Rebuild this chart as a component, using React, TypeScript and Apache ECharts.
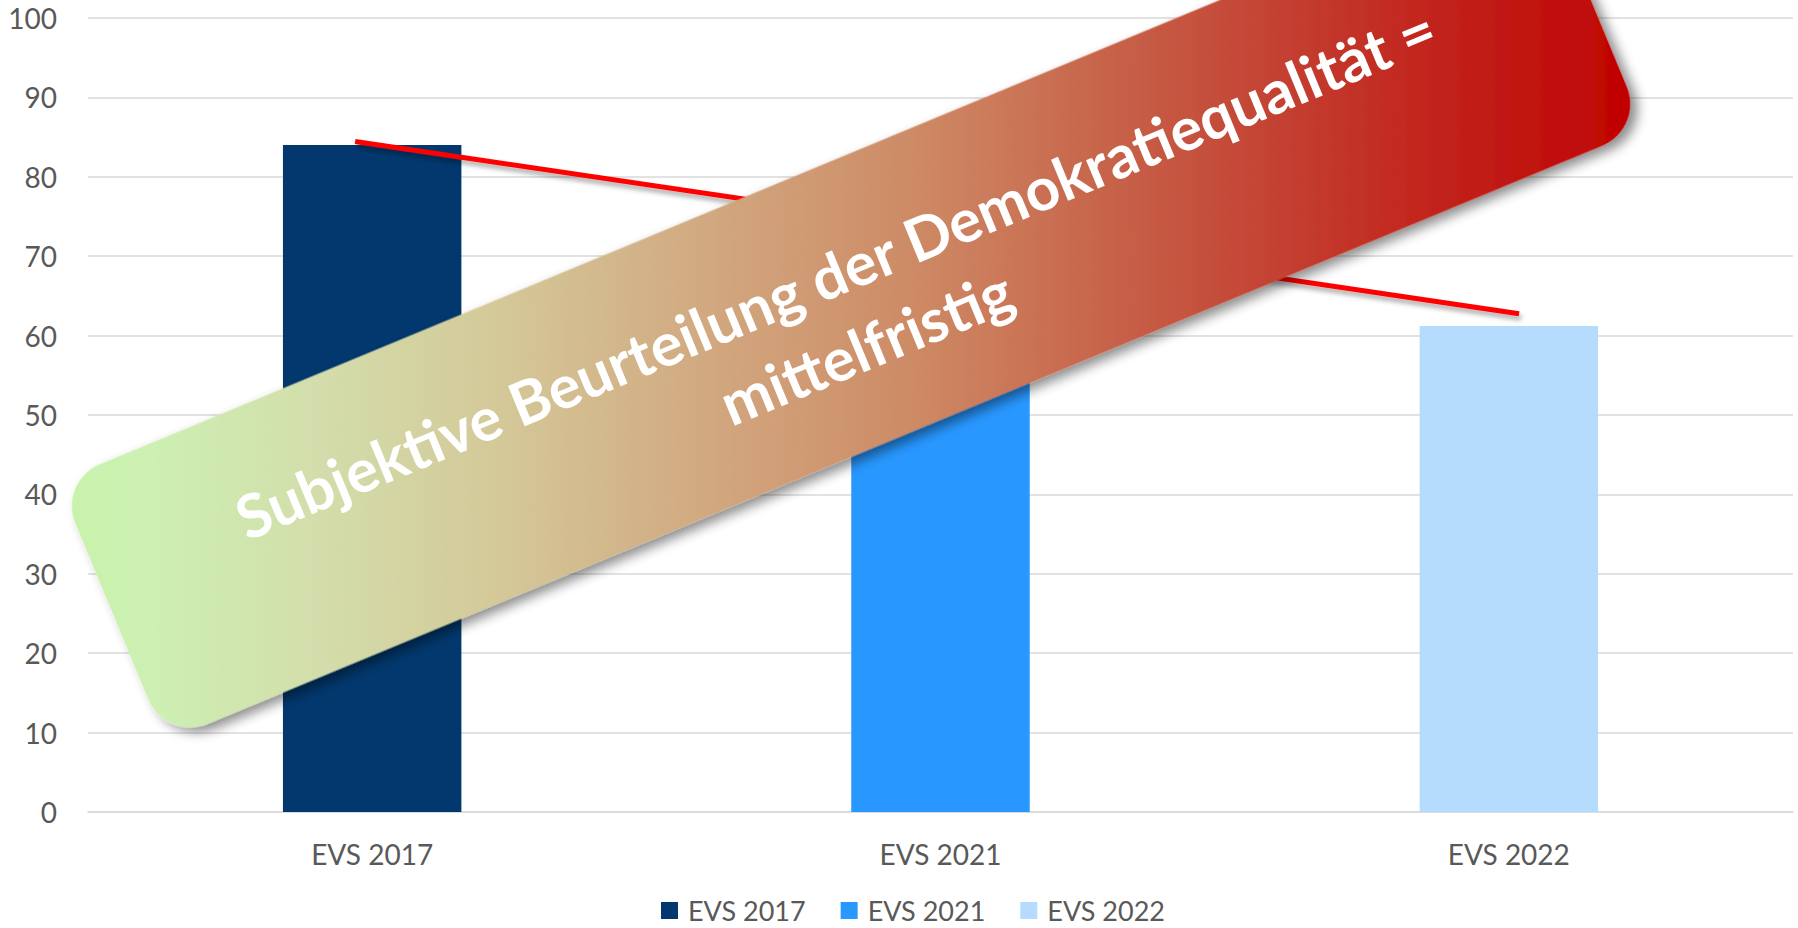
import React, { useEffect, useRef } from "react";
import * as echarts from "echarts";

const categories = ["EVS 2017", "EVS 2021", "EVS 2022"];
const seriesNames = ["EVS 2017", "EVS 2021", "EVS 2022"];
const values = [84, 70, 61.2];
const barColors = ["#02386e", "#2897ff", "#b6dcfd"];
const yTicks = { min: 0, max: 100, interval: 10 };
// trend annotation line: [category position, value]
const trendLine: [number, number][] = [
  [-0.03, 84.45],
  [2.018, 62.74],
];
const bannerText = "Subjektive Beurteilung der Demokratiequalität =\nmittelfristig";

export default function App() {
  const ref = useRef<HTMLDivElement>(null);
  useEffect(() => {
    if (!ref.current) return;
    const chart = echarts.init(ref.current, null, { renderer: "svg" });
    const theta = (22.5 * Math.PI) / 180;
    const W = 1600;
    const H = 281;
    const proj = (W / 2) * Math.cos(theta) + (H / 2) * Math.sin(theta);
    const gx = proj * Math.cos(theta);
    const gy = proj * Math.sin(theta);
    const grad = new echarts.graphic.LinearGradient(
      -gx,
      -gy,
      gx,
      gy,
      [
        { offset: 0, color: "#c8f3aa" },
        { offset: 0.06, color: "#cdf0b3" },
        { offset: 0.17, color: "#d3dcaa" },
        { offset: 0.28, color: "#d4c898" },
        { offset: 0.39, color: "#d2ad84" },
        { offset: 0.54, color: "#cd8a65" },
        { offset: 0.69, color: "#c65a44" },
        { offset: 0.83, color: "#c22e24" },
        { offset: 1, color: "#c00000" },
      ],
      true
    );

    const barSeries = seriesNames.map((name, i) => ({
      name,
      type: "bar",
      stack: "all",
      barWidth: "31.4%",
      itemStyle: { color: barColors[i] },
      data: categories.map((_, j) => (j === i ? values[i] : "-")),
    }));

    chart.setOption({
      animation: false,
      textStyle: { fontFamily: "Lato" },
      grid: { left: 88, right: 5, top: 18, bottom: 116, containLabel: false },
      legend: {
        left: 661,
        top: 897,
        padding: 0,
        itemWidth: 17,
        itemHeight: 17,
        itemGap: 35,
        icon: "rect",
        data: seriesNames,
        textStyle: {
          fontSize: 27,
          lineHeight: 26,
          color: "#595959",
          fontFamily: "Lato",
          padding: [0, 0, 0, 5],
        },
      },
      xAxis: [
        {
          type: "category",
          data: categories,
          axisLine: { show: true, lineStyle: { color: "#d9d9d9", width: 1.5 } },
          axisTick: { show: false },
          axisLabel: { fontSize: 28, color: "#595959", margin: 28, fontFamily: "Lato" },
        },
        {
          type: "value",
          min: -0.5,
          max: 2.5,
          show: false,
        },
      ],
      yAxis: {
        type: "value",
        min: yTicks.min,
        max: yTicks.max,
        interval: yTicks.interval,
        axisLine: { show: false },
        axisTick: { show: false },
        splitLine: { lineStyle: { color: "#d9d9d9", width: 1.5 } },
        axisLabel: { fontSize: 28, color: "#595959", margin: 31, fontFamily: "Lato" },
      },
      series: [
        ...barSeries,
        {
          name: "Trend",
          type: "line",
          xAxisIndex: 1,
          symbol: "none",
          data: trendLine,
          lineStyle: {
            color: "#ff0000",
            width: 5,
            shadowColor: "rgba(0,0,0,0.35)",
            shadowBlur: 5,
            shadowOffsetX: 2,
            shadowOffsetY: 4,
          },
          z: 3,
        },
      ],
      graphic: [
        {
          type: "group",
          x: 851,
          y: 305,
          rotation: theta,
          z: 100,
          children: [
            {
              type: "rect",
              z: 100,
              shape: { x: -W / 2, y: -H / 2, width: W, height: H, r: 45 },
              style: {
                fill: grad,
                shadowBlur: 12,
                shadowOffsetX: 5,
                shadowOffsetY: 7,
                shadowColor: "rgba(0,0,0,0.45)",
              },
            },
            {
              type: "text",
              z: 101,
              x: -2,
              y: 4,
              style: {
                text: bannerText,
                fill: "#ffffff",
                fontFamily: "Lato",
                fontWeight: "bold",
                fontSize: 60,
                lineHeight: 80,
                align: "center",
                verticalAlign: "middle",
              },
            },
          ],
        },
      ],
    });
    return () => chart.dispose();
  }, []);
  return (
    <div
      ref={ref}
      style={{ position: "fixed", left: 0, top: 0, width: 1798, height: 928, background: "#fff" }}
    />
  );
}
